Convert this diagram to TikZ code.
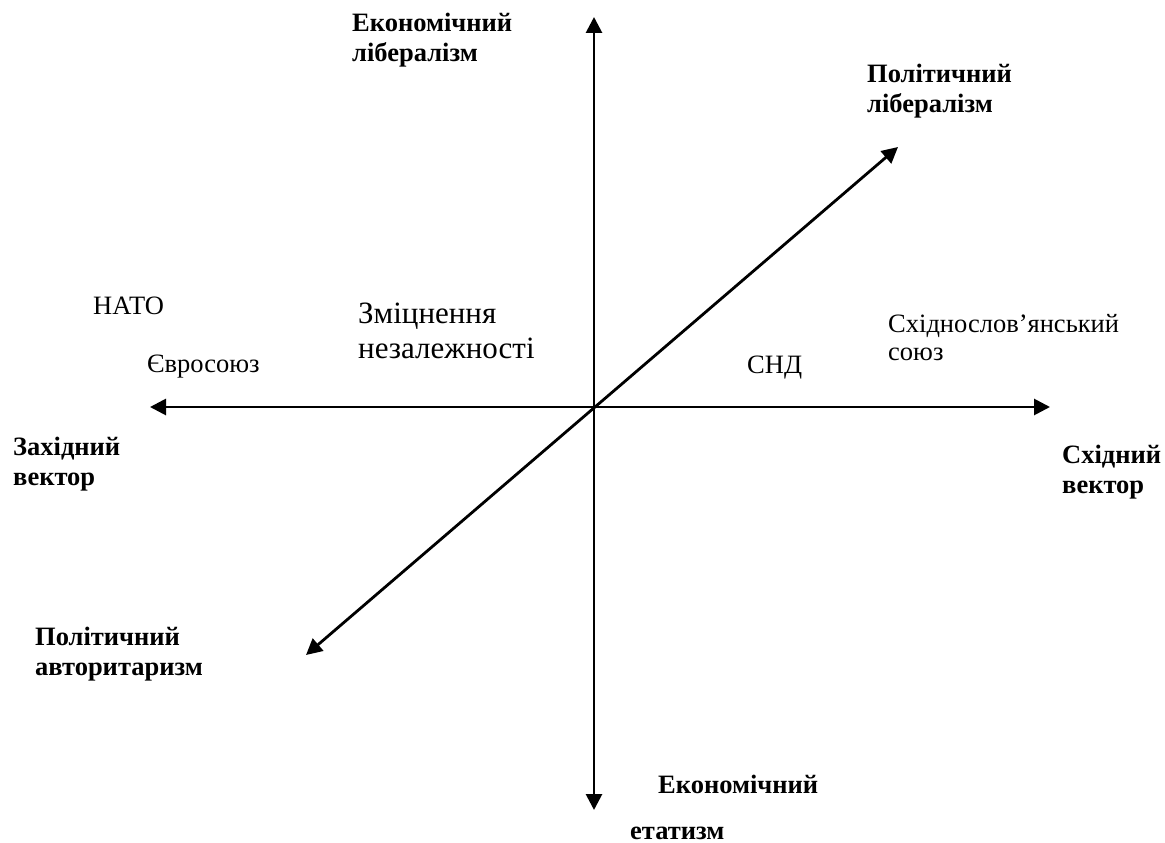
\documentclass[tikz,border=0pt]{standalone}
\usepackage{fontspec}
\setmainfont{Liberation Serif}
\usetikzlibrary{arrows.meta}
\begin{document}
\begin{tikzpicture}[x=1pt,y=-1pt,
    axis/.style={line width=2.8pt,
      {Triangle[length=16pt,width=16pt]}-{Triangle[length=16pt,width=16pt]}},
    pole/.style={font=\fontsize{26.5}{30}\selectfont\bfseries, align=left,
      anchor=base west, inner sep=0pt},
    place/.style={font=\fontsize{26.5}{28}\selectfont, align=left,
      anchor=base west, inner sep=0pt}]
  \useasboundingbox (0,0) rectangle (1165,843);
  % ends of the three axes
  \coordinate (n) at (594,17);
  \coordinate (s) at (594,810);
  \coordinate (w) at (150,407);
  \coordinate (e) at (1050,407);
  \coordinate (ne) at (898,147);
  \coordinate (sw) at (306,655);
  \draw[axis] (s) -- (n);
  \draw[axis] (w) -- (e);
  \draw[axis] (sw) -- (ne);
  % poles (placed at the baseline of the last line)
  \node[pole] (econlib) at (352,62) {Економічний\\лібералізм};
  \node[pole] (pollib) at (867,113) {Політичний\\лібералізм};
  \node[pole] (west) at (13,485) {Західний\\вектор};
  \node[pole] (east) at (1062,493) {Східний\\вектор};
  \node[pole] (polaut) at (35,675) {Політичний\\авторитаризм};
  \node[pole] (econet) at (658,793) {Економічний};
  \node[pole] (econet2) at (630,839) {етатизм};
  % unions
  \node[place] (nato) at (93,314) {НАТО};
  \node[place] (eu) at (147,372) {Євросоюз};
  \node[place] (cis) at (747,373) {СНД};
  \node[place] (slav) at (888,360) {Східнослов’янський\\союз};
  \node[place, font=\fontsize{31}{35}\selectfont] (indep) at (358,358)
    {Зміцнення\\незалежності};
\end{tikzpicture}
\end{document}
